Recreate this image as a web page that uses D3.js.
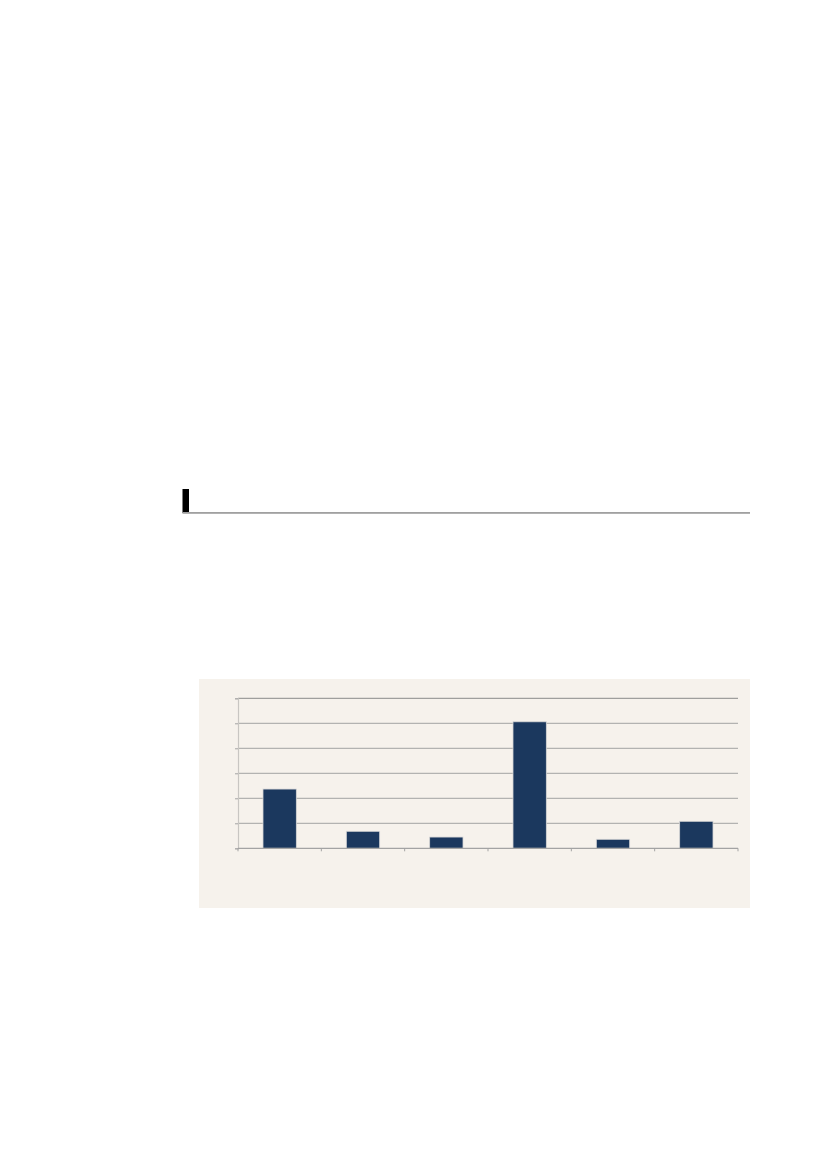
<!DOCTYPE html>
<html>
<head>
<meta charset="utf-8">
<script src="https://cdn.jsdelivr.net/npm/d3@7"></script>
<style>
  html, body { margin: 0; padding: 0; background: #ffffff; }
  svg { display: block; }
</style>
</head>
<body>
<script>
// Data (no labels are visible in the reference; categories are placeholders)
const categories = ["A", "B", "C", "D", "E", "F"];
const values = [2.37, 0.68, 0.45, 5.06, 0.36, 1.08];
const yTicks = [0, 1, 2, 3, 4, 5, 6];

const W = 827, H = 1169;
const svg = d3.select("body").append("svg").attr("width", W).attr("height", H);

// Section header: black marker + gray rule
svg.append("rect").attr("x", 182.5).attr("y", 489).attr("width", 6.5).attr("height", 24).attr("fill", "#000");
svg.append("rect").attr("x", 182.5).attr("y", 512).attr("width", 567.5).attr("height", 1.8).attr("fill", "#a0a0a0");

// Chart panel
svg.append("rect").attr("x", 199).attr("y", 679).attr("width", 551).attr("height", 229).attr("fill", "#f6f2ec");

const plot = { left: 238, right: 738, top: 698.3, bottom: 848.3 };

const x = d3.scaleBand().domain(categories).range([plot.left, plot.right]).paddingInner(0.6).paddingOuter(0.3);
const y = d3.scaleLinear().domain([0, 6]).range([plot.bottom, plot.top]);

// Gridlines
const g = svg.append("g");
g.selectAll("line.grid").data(yTicks.slice(1)).join("line")
  .attr("class", "grid")
  .attr("x1", plot.left).attr("x2", plot.right)
  .attr("y1", d => y(d)).attr("y2", d => y(d))
  .attr("stroke", d => d === 6 ? "#8a8a8a" : "#a3a3a3")
  .attr("stroke-width", 1);

// Y axis
const yAxis = d3.axisLeft(y).tickValues(yTicks).tickSize(3).tickFormat("");
const ya = svg.append("g").attr("transform", `translate(${plot.left},0)`).call(yAxis);
ya.select(".domain").attr("stroke", "#c8c6c2").attr("stroke-width", 1.2);
ya.selectAll(".tick line").attr("stroke", "#a3a3a3");

// Bars
svg.append("g").selectAll("rect").data(values).join("rect")
  .attr("x", (d, i) => x(categories[i]))
  .attr("y", d => y(d))
  .attr("width", x.bandwidth())
  .attr("height", d => y(0) - y(d))
  .attr("fill", "#1b385e")
  .attr("stroke", "#d6d6d6")
  .attr("stroke-width", 0.8);

// X axis with ticks at category boundaries
const step = x.step();
const boundaries = d3.range(categories.length + 1).map(i => plot.left + i * (plot.right - plot.left) / categories.length);
const xa = svg.append("g");
xa.append("line").attr("x1", plot.left).attr("x2", plot.right)
  .attr("y1", plot.bottom).attr("y2", plot.bottom)
  .attr("stroke", "#a3a3a3").attr("stroke-width", 1.2);
xa.selectAll("line.tk").data(boundaries).join("line")
  .attr("class", "tk")
  .attr("x1", d => d).attr("x2", d => d)
  .attr("y1", plot.bottom).attr("y2", plot.bottom + 3)
  .attr("stroke", "#a3a3a3");
</script>
</body>
</html>
